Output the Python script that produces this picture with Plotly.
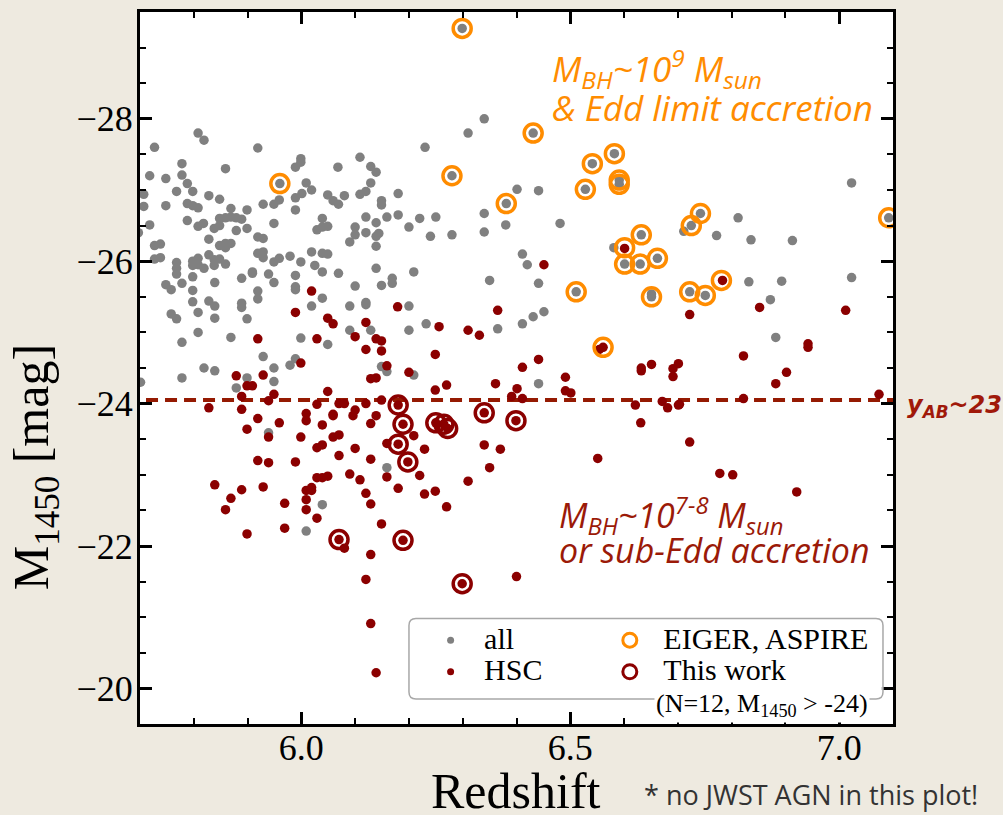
import plotly.graph_objects as go

# ---------------- data ----------------
# All known quasars (redshift, M1450)
all_z = [
    5.808, 5.819, 5.727, 5.919, 6.230, 6.109, 5.999, 5.999, 5.778, 5.989, 5.859, 6.068, 6.129, 6.139,
    5.718, 5.748, 5.778, 5.788, 6.009, 6.129, 5.798, 5.768, 6.019, 6.120, 6.109, 6.180, 5.707, 5.828,
    5.848, 5.989, 6.001, 5.959, 6.049, 6.059, 6.069, 6.080, 6.149, 6.149, 5.949, 5.929, 5.707, 5.748,
    5.788, 5.798, 5.808, 5.869, 5.899, 5.989, 6.120, 6.139, 6.159, 6.180, 6.220, 6.250, 6.039, 5.848,
    5.859, 5.869, 5.879, 5.889, 5.788, 5.818, 5.808, 5.718, 5.949, 5.838, 5.848, 5.879, 5.899, 6.029,
    6.039, 6.049, 6.100, 6.100, 6.120, 6.139, 6.144, 6.200, 6.240, 5.697, 5.919, 5.929, 5.828, 6.090,
    6.139, 5.727, 5.738, 5.848, 5.859, 5.869, 5.859, 5.919, 5.929, 5.929, 5.949, 5.959, 5.979, 6.019,
    6.039, 6.049, 5.999, 5.727, 5.738, 5.798, 5.808, 5.798, 5.808, 5.828, 5.838, 5.848, 5.838, 5.859,
    5.768, 5.768, 5.768, 5.819, 5.909, 5.909, 5.939, 5.889, 5.989, 6.025, 6.039, 6.069, 6.139, 6.209,
    5.798, 5.748, 5.758, 5.778, 5.839, 5.949, 5.989, 5.989, 6.100, 6.149, 6.169, 6.169, 5.798, 5.919,
    5.919, 6.039, 5.798, 5.828, 5.839, 5.889, 5.889, 6.019, 6.090, 6.120, 6.120, 6.200, 5.758, 5.768,
    5.808, 5.839, 5.899, 6.090, 6.129, 6.200, 6.232, 5.808, 5.869, 5.999, 5.778, 6.049,
    5.819, 5.839, 5.778, 5.929, 5.949, 5.949, 5.899, 5.879, 5.979, 5.989, 5.701, 6.149, 6.159, 6.209,
    5.939, 6.159, 6.039, 6.009,
    6.340, 6.310, 6.401, 6.441, 6.280, 6.340, 6.340, 6.380, 6.481, 6.411, 6.420, 6.441, 6.350, 6.365,
    6.411, 6.431, 6.451, 6.441, 6.581, 6.711, 6.651,
    7.023, 6.772, 6.812, 6.836, 6.913, 6.832, 6.893, 6.872, 7.023, 6.882,
    6.299, 5.960, 6.280, 6.381, 6.431, 6.541, 6.582, 6.528, 6.591, 6.591, 6.632, 6.601, 6.630, 6.662,
    6.511, 6.651, 6.722, 6.751, 6.725, 6.742, 7.092,
]
all_m1450 = [
    -27.80, -27.70, -27.60, -27.59, -27.60, -27.46, -27.44, -27.39, -27.37, -27.32, -27.30, -27.32, -27.33, -27.25,
    -27.20, -27.16, -27.21, -27.09, -27.10, -27.10, -26.98, -26.98, -27.00, -26.98, -26.94, -26.95, -26.94, -26.92,
    -26.87, -26.89, -26.95, -26.86, -26.93, -26.85, -26.80, -26.92, -26.85, -26.79, -26.80, -26.80, -26.77, -26.78,
    -26.81, -26.78, -26.75, -26.74, -26.72, -26.72, -26.62, -26.54, -26.62, -26.65, -26.60, -26.62, -26.60, -26.60,
    -26.61, -26.62, -26.61, -26.59, -26.57, -26.53, -26.49, -26.51, -26.53, -26.46, -26.50, -26.43, -26.46, -26.44,
    -26.48, -26.49, -26.48, -26.37, -26.40, -26.35, -26.39, -26.48, -26.35, -26.40, -26.34, -26.32, -26.31, -26.27,
    -26.21, -26.22, -26.24, -26.22, -26.25, -26.25, -26.19, -26.11, -26.13, -26.05, -25.99, -26.04, -26.07, -26.13,
    -26.11, -26.10, -25.99, -26.03, -26.05, -26.00, -26.04, -25.94, -25.95, -26.09, -26.02, -26.03, -25.94, -25.96,
    -25.98, -25.90, -25.82, -25.90, -25.85, -25.83, -25.82, -25.76, -25.80, -25.94, -25.85, -25.83, -25.90, -25.85,
    -25.78, -25.67, -25.60, -25.69, -25.70, -25.70, -25.64, -25.60, -25.65, -25.66, -25.76, -25.69, -25.59, -25.58,
    -25.47, -25.48, -25.43, -25.44, -25.37, -25.41, -25.35, -25.37, -25.37, -25.42, -25.39, -25.37, -25.26, -25.19,
    -25.28, -25.20, -25.19, -25.03, -25.03, -25.03, -25.12, -25.00, -24.93, -24.92, -24.86, -24.83,
    -24.50, -24.46, -24.36, -24.66, -24.50, -24.31, -24.36, -24.22, -24.54, -24.63, -24.30, -24.52, -24.45, -24.40,
    -23.59, -23.10, -22.58, -22.21,
    -28.00, -27.80, -27.01, -26.99, -26.37, -26.67, -26.41, -26.51, -26.53, -26.10, -25.95, -25.69, -25.73, -25.05,
    -25.12, -25.22, -25.29, -24.28, -26.19, -26.42, -25.54,
    -27.10, -26.36, -26.61, -26.30, -26.29, -25.71, -25.72, -25.46, -25.77, -24.93,
    -29.27, -27.09, -27.20, -26.81, -27.80, -27.37, -27.51, -27.01, -27.14, -27.08, -26.37, -25.96, -25.96, -26.04,
    -25.57, -25.50, -25.57, -25.52, -26.50, -26.67, -26.61,
]

# HSC-selected quasars
hsc_z = [
    6.019, 5.989, 6.049, 6.059, 6.120, 6.179, 6.256, 5.919, 6.029, 6.100, 6.139, 6.149, 6.120, 6.149,
    6.249, 5.999, 6.159, 6.200, 5.879, 5.929, 5.899, 5.909, 6.129, 6.139, 6.249, 5.889, 5.949, 5.939,
    6.049, 5.828, 5.889, 6.029, 6.070, 6.080, 6.120, 6.149, 6.009, 6.009, 6.059, 6.059, 6.100, 6.096,
    6.139, 5.919, 5.899, 5.959, 6.039, 6.129, 5.939, 5.999, 6.059, 6.070, 6.029, 6.039, 6.100, 6.159,
    6.209, 6.229, 6.070, 6.129, 5.919, 5.939, 5.989, 6.029, 6.039, 6.049, 6.090, 6.109, 6.159, 6.220,
    6.249, 6.229, 6.180, 5.839, 5.869, 5.889, 5.929, 6.009, 6.019, 6.019, 6.120, 6.009, 6.129, 5.969,
    5.859, 6.009, 6.029, 6.149, 5.899, 5.969,
    6.080, 6.129, 6.120, 6.129, 6.139,
    6.451, 6.310, 6.331, 6.365, 6.270, 6.361, 6.401, 6.411, 6.441, 6.491, 6.491, 6.501, 6.391, 6.411,
    6.561, 6.554, 6.601, 6.722, 6.632, 6.632, 6.651, 6.691, 6.701, 6.691,
    6.783, 6.852, 7.012, 6.822, 6.942, 6.942, 6.902, 6.882, 6.822, 7.074, 6.703, 6.722,
    6.621, 6.671, 6.681, 6.701, 6.631, 6.340, 6.370, 6.350, 6.310, 6.270, 6.551, 6.778, 6.400,
    6.802, 6.921,
    6.070, 6.189, 6.180, 6.189, 6.180, 6.198, 6.250, 6.265, 6.272, 6.340, 6.399, 6.299,
]
hsc_m1450 = [
    -25.58, -25.28, -25.20, -25.12, -25.14, -25.36, -25.08, -24.91, -24.91, -24.94, -24.91, -24.88, -24.76, -24.74,
    -24.69, -24.57, -24.53, -24.44, -24.39, -24.40, -24.25, -24.25, -24.35, -24.36, -24.19, -24.10, -24.13, -24.04,
    -24.17, -23.94, -23.92, -23.99, -24.00, -24.00, -24.00, -24.05, -23.86, -23.76, -23.85, -23.83, -23.91, -23.83,
    -23.83, -23.79, -23.64, -23.73, -23.70, -23.72, -23.53, -23.53, -23.53, -23.56, -23.38, -23.42, -23.37, -23.44,
    -23.55, -23.36, -23.27, -23.22, -23.20, -23.17, -23.18, -22.96, -22.96, -22.98, -23.01, -22.93, -22.97, -22.99,
    -22.77, -22.73, -22.81, -22.86, -22.67, -22.79, -22.83, -22.78, -22.82, -22.78, -22.74, -22.65, -22.59, -22.60,
    -22.51, -22.51, -22.39, -22.31, -22.17, -22.25,
    -21.97, -21.88, -21.53, -20.91, -20.22,
    -25.95, -25.03, -24.96, -25.31, -24.26, -24.28, -24.21, -24.51, -24.62, -24.37, -24.18, -24.15, -24.10, -24.07,
    -24.79, -24.76, -26.18, -25.25, -24.50, -24.46, -24.55, -24.49, -24.56, -24.38,
    -25.73, -25.35, -25.31, -24.67, -24.84, -24.79, -24.44, -24.28, -24.07, -24.13, -23.99, -23.46,
    -23.98, -24.03, -23.94, -23.98, -23.73, -23.42, -23.36, -23.10, -22.91, -22.55, -23.23, -23.02, -21.57,
    -23.00, -22.76,
    -22.09, -22.08, -23.98, -23.71, -23.43, -23.18, -23.73, -23.71, -23.65, -23.87, -23.76, -21.47,
]

# EIGER / ASPIRE JWST spectroscopy targets
eiger_z = [6.299, 5.960, 6.280, 6.381, 6.431, 6.541, 6.582, 6.528, 6.591, 6.591, 6.632, 6.601,
           6.601, 6.630, 6.662, 6.511, 6.651, 6.722, 6.751, 6.781, 6.561, 6.725, 6.742, 7.092]
eiger_m1450 = [-29.27, -27.09, -27.20, -26.81, -27.80, -27.37, -27.51, -27.01, -27.14, -27.08, -26.37, -26.19,
               -25.96, -25.96, -26.04, -25.57, -25.50, -25.57, -25.52, -25.73, -24.79, -26.50, -26.67, -26.61]

# This work: 12 faint quasars
this_z = [6.070, 6.189, 6.180, 6.189, 6.180, 6.198, 6.250, 6.265, 6.272, 6.340, 6.399, 6.299]
this_m1450 = [-22.09, -22.08, -23.98, -23.71, -23.43, -23.18, -23.73, -23.71, -23.65, -23.87, -23.76, -21.47]

# magnitude corresponding to the y_AB ~ 23 survey depth
y_ab_limit = -24.05

x_range = [5.7, 7.1]
y_range = [-19.5, -29.5]

# ---------------- styling ----------------
BG = "#EEEAE0"
GRAY = "#808080"
DARKRED = "#8B0000"
ORANGE = "#FF8C00"
TEXT_RED = "#9B1A08"
SERIF = "Liberation Serif, Times New Roman, serif"
SANS = "Open Sans, Noto Sans, sans-serif"

fig = go.Figure()

fig.add_trace(go.Scatter(x=all_z, y=all_m1450, mode="markers", showlegend=False,
                         marker=dict(size=9.5, color=GRAY), cliponaxis=True))
fig.add_trace(go.Scatter(x=hsc_z, y=hsc_m1450, mode="markers", showlegend=False,
                         marker=dict(size=9.5, color=DARKRED), cliponaxis=True))
fig.add_trace(go.Scatter(x=eiger_z, y=eiger_m1450, mode="markers", showlegend=False,
                         marker=dict(size=18, symbol="circle-open", color=ORANGE,
                                     line=dict(width=3.5, color=ORANGE)), cliponaxis=True))
fig.add_trace(go.Scatter(x=this_z, y=this_m1450, mode="markers", showlegend=False,
                         marker=dict(size=18, symbol="circle-open", color=DARKRED,
                                     line=dict(width=3.5, color=DARKRED)), cliponaxis=True))

# legend swatches
def legend_text(s):
    return '<span style="font-size:30px">' + s + "</span>"

fig.add_trace(go.Scatter(x=[None], y=[None], mode="markers", name=legend_text("all"),
                         marker=dict(size=7, color=GRAY), legend="legend"))
fig.add_trace(go.Scatter(x=[None], y=[None], mode="markers", name=legend_text("HSC"),
                         marker=dict(size=7, color=DARKRED), legend="legend"))
fig.add_trace(go.Scatter(x=[None], y=[None], mode="markers", name=legend_text("EIGER, ASPIRE"),
                         marker=dict(size=14, symbol="circle-open", color=ORANGE,
                                     line=dict(width=3, color=ORANGE)), legend="legend2"))
fig.add_trace(go.Scatter(x=[None], y=[None], mode="markers", name=legend_text("This work"),
                         marker=dict(size=14, symbol="circle-open", color=DARKRED,
                                     line=dict(width=3, color=DARKRED)), legend="legend2"))

axis_common = dict(
    showline=True, linewidth=3, linecolor="black", mirror="allticks",
    ticks="inside", tickwidth=2.5, ticklen=12, tickcolor="black",
    showgrid=False, zeroline=False,
    tickfont=dict(family=SERIF, size=36, color="black"),
)

fig.update_xaxes(range=x_range, tick0=0, dtick=0.5, tickformat=".1f", ticklabelstandoff=-10,
                 minor=dict(dtick=0.1, ticks="inside", ticklen=6, tickwidth=2, tickcolor="black", showgrid=False),
                 **axis_common)
fig.update_yaxes(range=y_range, tick0=0, dtick=2, ticklabelstandoff=-3,
                 minor=dict(dtick=0.5, ticks="inside", ticklen=6, tickwidth=2, tickcolor="black", showgrid=False),
                 **axis_common)

# rounded legend frame (paper coordinates)
x0, x1, y0, y1 = 0.3572, 0.9867, 0.035, 0.1483
rx, ry = 0.0093, 0.0098
frame_path = (f"M {x0+rx},{y1} L {x1-rx},{y1} Q {x1},{y1} {x1},{y1-ry} L {x1},{y0+ry} "
              f"Q {x1},{y0} {x1-rx},{y0} L {x0+rx},{y0} Q {x0},{y0} {x0},{y0+ry} "
              f"L {x0},{y1-ry} Q {x0},{y1} {x0+rx},{y1} Z")

shapes = [
    dict(type="line", xref="paper", yref="y", x0=0.008, x1=1, y0=y_ab_limit, y1=y_ab_limit,
         line=dict(color="#951A02", width=4, dash="12px,7px"), layer="below"),
    dict(type="path", xref="paper", yref="paper", path=frame_path,
         fillcolor="rgba(255,255,255,0.85)", line=dict(color="#A8A8A8", width=1.5), layer="above"),
]

annotations = [
    dict(text="M<sub>1450</sub> [mag]", xref="paper", yref="paper", x=-0.139, y=0.361,
         textangle=-90, showarrow=False, xanchor="center", yanchor="middle",
         font=dict(family=SERIF, size=50, color="black")),
    dict(text="Redshift", xref="paper", yref="paper", x=0.499, y=-0.094,
         showarrow=False, xanchor="center", yanchor="middle",
         font=dict(family=SERIF, size=50, color="black")),
    dict(text="* no JWST AGN in this plot!", xref="paper", yref="paper", x=0.667, y=-0.0993,
         showarrow=False, xanchor="left", yanchor="middle",
         font=dict(family=SANS, size=27, color="#333333")),
    dict(text="<i>M<sub>BH</sub>~10<sup>9</sup> M<sub>sun</sub></i>", xref="paper", yref="paper",
         x=0.5445, y=0.921, showarrow=False, xanchor="left", yanchor="middle",
         font=dict(family=SANS, size=35, color=ORANGE)),
    dict(text="<i>&amp; Edd limit accretion</i>", xref="paper", yref="paper",
         x=0.5445, y=0.866, showarrow=False, xanchor="left", yanchor="middle",
         font=dict(family=SANS, size=35, color=ORANGE)),
    dict(text="<i>M<sub>BH</sub>~10<sup>7-8</sup> M<sub>sun</sub></i>", xref="paper", yref="paper",
         x=0.5538, y=0.293, showarrow=False, xanchor="left", yanchor="middle",
         font=dict(family=SANS, size=34, color=TEXT_RED)),
    dict(text="<i>or sub-Edd accretion</i>", xref="paper", yref="paper",
         x=0.5538, y=0.244, showarrow=False, xanchor="left", yanchor="middle",
         font=dict(family=SANS, size=34, color=TEXT_RED)),
    dict(text="<b><i>y<sub>AB</sub>~23</i></b>", xref="paper", yref="y",
         x=1.016, y=y_ab_limit, yshift=-6, showarrow=False, xanchor="left", yanchor="middle",
         font=dict(family="DejaVu Sans, sans-serif", size=24, color="#A0190A")),
    dict(text="(N=12, M<sub>1450</sub> &gt; -24)", xref="paper", yref="paper",
         x=0.826, y=0.0266, showarrow=False, xanchor="center", yanchor="middle",
         bgcolor="white", borderpad=1,
         font=dict(family=SERIF, size=26, color="black")),
]

legend_common = dict(bgcolor="rgba(0,0,0,0)", borderwidth=0, itemwidth=57,
                     font=dict(family=SERIF, size=22, color="black"),
                     xanchor="left", yanchor="top", tracegroupgap=0)

fig.update_layout(
    width=1003, height=815, autosize=False,
    margin=dict(l=140, r=110, t=9, b=91),
    paper_bgcolor=BG, plot_bgcolor="white",
    shapes=shapes, annotations=annotations,
    legend=dict(x=0.368, y=0.147, **legend_common),
    legend2=dict(x=0.606, y=0.147, **legend_common),
)

fig.write_html("out.html")
